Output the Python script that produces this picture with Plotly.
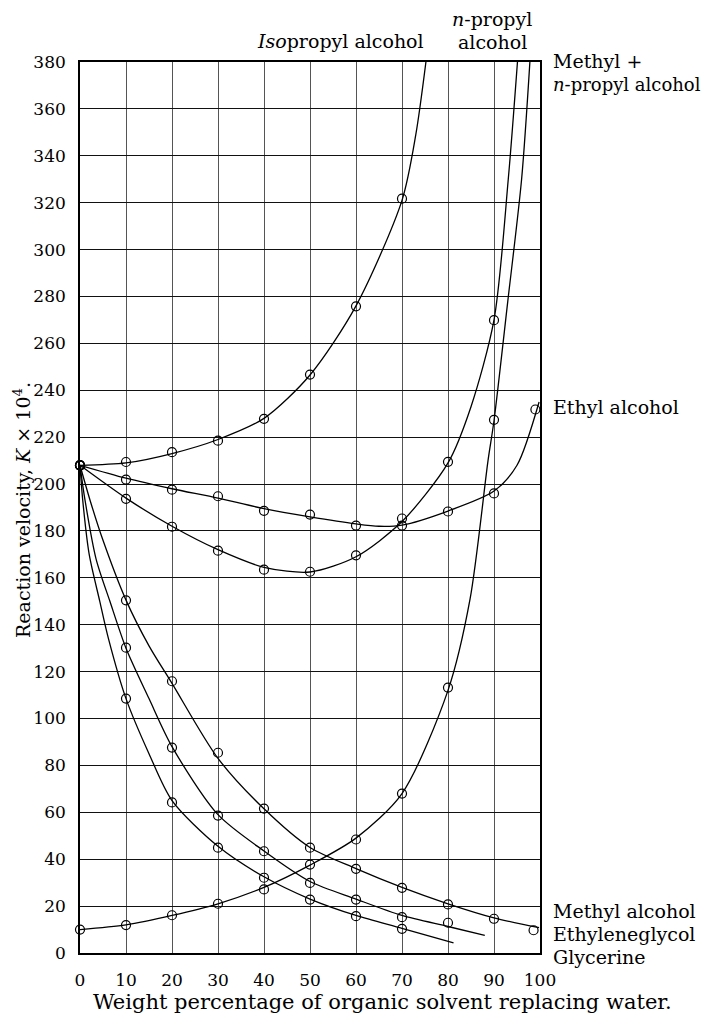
import plotly.graph_objects as go

# ---------------- data ----------------
x_ticks = [0, 10, 20, 30, 40, 50, 60, 70, 80, 90, 100]
y_ticks = list(range(0, 381, 20))

# measured points (open circles)
iso_x = [0, 10, 20, 30, 40, 50, 60, 70]
iso_y = [208, 209.4, 213.6, 218.5, 227.8, 246.7, 275.8, 321.7]

ethyl_x = [0, 10, 20, 30, 40, 50, 60, 70, 80, 90, 99]
ethyl_y = [208, 201.9, 197.6, 194.8, 188.6, 187.0, 182.3, 182.3, 188.3, 196.0, 231.8]

npropyl_x = [0, 10, 20, 30, 40, 50, 60, 70, 80, 90]
npropyl_y = [208, 193.7, 181.8, 171.6, 163.5, 162.6, 169.6, 185.3, 209.5, 269.9]

mnp_x = [0, 10, 20, 30, 40, 50, 60, 70, 80, 90]
mnp_y = [10, 11.9, 16.1, 21.0, 27.1, 37.7, 48.4, 68.0, 113.2, 227.4]

methyl_x = [0, 10, 20, 30, 40, 50, 60, 70, 80, 90, 98.6]
methyl_y = [208, 150.4, 115.9, 85.4, 61.6, 44.9, 35.9, 27.8, 20.7, 14.6, 9.7]

glycol_x = [0, 10, 20, 30, 40, 50, 60, 70, 80]
glycol_y = [208, 130.2, 87.6, 58.6, 43.4, 29.9, 22.8, 15.3, 12.9]

glyc_x = [0, 10, 20, 30, 40, 50, 60, 70]
glyc_y = [208, 108.5, 64.2, 44.9, 32.1, 22.8, 15.7, 10.3]

# drawn (smoothed) curves
iso_cx = [0, 10, 20, 30, 40, 50, 60, 70, 73, 75.2]
iso_cy = [208, 209, 213, 219, 228, 246.5, 276, 321, 349, 380]

ethyl_cx = [0, 10, 20, 30, 40, 50, 60, 65, 70, 80, 90, 95, 99.8]
ethyl_cy = [208, 202.5, 198, 194, 189.5, 186, 183, 182, 182.5, 188.5, 197, 208, 235]

npropyl_cx = [0, 10, 20, 30, 40, 50, 60, 70, 80, 85, 90, 93.1, 95.1]
npropyl_cy = [208, 194, 182, 172, 164.5, 162.5, 169, 184, 209, 233, 270, 330, 380]

mnp_cx = [0, 10, 20, 30, 40, 50, 60, 70, 80, 84.8, 88.7, 90, 93, 96, 97.8]
mnp_cy = [10, 12, 16, 21, 28, 37.5, 49, 68, 112, 151, 210, 227, 278, 330, 380]

methyl_cx = [0, 2.2, 5, 10, 15, 20, 30, 40, 50, 60, 70, 80, 90, 99.8]
methyl_cy = [208, 193, 176, 150.5, 131, 115, 83, 61.5, 45, 36, 28, 21, 15, 10.8]

glycol_cx = [0, 1.1, 3.5, 6.5, 10, 15, 20, 30, 40, 50, 60, 70, 80, 88]
glycol_cy = [208, 193, 168, 150, 130, 108.5, 88, 59, 43.5, 30.5, 23, 16, 11.3, 7.5]

glyc_cx = [0, 0.6, 2, 4.3, 6.2, 10, 15, 20, 30, 40, 50, 60, 70, 81.2]
glyc_cy = [208, 193, 170, 150, 134, 108.5, 85, 65, 45.5, 32.5, 23, 16, 10.5, 4.3]

curves = [
    (iso_cx, iso_cy, iso_x, iso_y),
    (ethyl_cx, ethyl_cy, ethyl_x, ethyl_y),
    (npropyl_cx, npropyl_cy, npropyl_x, npropyl_y),
    (mnp_cx, mnp_cy, mnp_x, mnp_y),
    (methyl_cx, methyl_cy, methyl_x, methyl_y),
    (glycol_cx, glycol_cy, glycol_x, glycol_y),
    (glyc_cx, glyc_cy, glyc_x, glyc_y),
]

# ---------------- figure ----------------
# the page body has an 8px margin, so the figure is made 8px smaller
W, H = 704, 1009
L, R, T, B = 72, 172, 54, 64
FONT = "DejaVu Serif"

# positions below are given in window pixels of the reference (plot box 80..540 x 62..953)
def px(p):
    return (p - 80) / 460

def py(p):
    return (953 - p) / 891

fig = go.Figure()
for cx, cy, mx, my in curves:
    fig.add_trace(go.Scatter(x=cx, y=cy, mode="lines",
                             line=dict(color="black", width=1.3, shape="spline", smoothing=0.8),
                             hoverinfo="skip", showlegend=False))
    fig.add_trace(go.Scatter(x=mx, y=my, mode="markers", cliponaxis=False,
                             marker=dict(symbol="circle-open", size=9, color="black",
                                         line=dict(width=1.2, color="black")),
                             showlegend=False))

labels = [
    ("<i>Iso</i>propyl alcohol", 340, 41, "center", 19),
    ("<i>n</i>-propyl", 492, 19, "center", 19),
    ("alcohol", 492, 42, "center", 19),
    ("Methyl +", 551, 61, "left", 19),
    ("<i>n</i>-propyl alcohol", 551, 84, "left", 18),
    ("Ethyl alcohol", 551, 407, "left", 19),
    ("Methyl alcohol", 551, 911, "left", 19),
    ("Ethyleneglycol", 551, 934, "left", 19),
    ("Glycerine", 551, 957, "left", 19),
]
for text, xp, yp, anchor, fs in labels:
    fig.add_annotation(text=text, x=px(xp), y=py(yp), xref="paper", yref="paper",
                       xanchor=anchor, yanchor="middle", showarrow=False,
                       font=dict(family=FONT, size=fs, color="black"))

# axis titles
fig.add_annotation(text="Weight percentage of organic solvent replacing water.",
                   x=px(382), y=py(1002), xref="paper", yref="paper",
                   xanchor="center", yanchor="middle", showarrow=False,
                   font=dict(family=FONT, size=21, color="black"))
fig.add_annotation(text="Reaction velocity, <i>K</i> × 10<sup>4</sup>.",
                   x=px(22), y=py(510), xref="paper", yref="paper",
                   xanchor="center", yanchor="middle", showarrow=False, textangle=-90,
                   font=dict(family=FONT, size=19, color="black"))

fig.update_layout(
    width=W, height=H,
    margin=dict(l=L, r=R, t=T, b=B, pad=0),
    paper_bgcolor="white", plot_bgcolor="white",
    font=dict(family=FONT, size=16, color="black"),
    xaxis=dict(range=[0, 100], tickvals=x_ticks, ticktext=[str(v) for v in x_ticks],
               showgrid=True, gridcolor="#555", gridwidth=1,
               showline=True, linecolor="black", linewidth=1.6, mirror=True,
               ticks="", ticklabelstandoff=11, zeroline=False,
               tickfont=dict(family=FONT, size=17)),
    yaxis=dict(range=[0, 380], tickvals=y_ticks, ticktext=[str(v) for v in y_ticks],
               showgrid=True, gridcolor="#111", gridwidth=1.3,
               showline=True, linecolor="black", linewidth=1.6, mirror=True,
               ticks="", ticklabelstandoff=9, zeroline=False,
               tickfont=dict(family=FONT, size=17)),
)

fig.write_html("out.html")
